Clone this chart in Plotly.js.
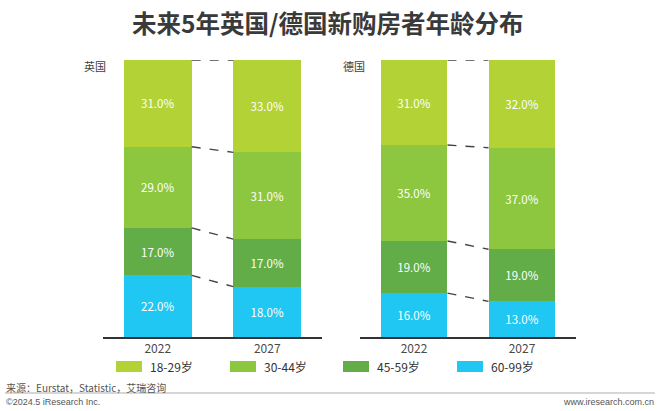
<!DOCTYPE html>
<html>
<head>
<meta charset="utf-8">
<script src="https://cdn.plot.ly/plotly-3.0.1.min.js"></script>
<style>
  html, body { margin: 0; padding: 0; background: #fff; }
  #chart { width: 660px; height: 411px; }
</style>
</head>
<body>
<div id="chart"></div>
<script>
"use strict";

// values (share of new home buyers, %)
var years = ["2022", "2027"];
var groupNames = ["18-29岁", "30-44岁", "45-59岁", "60-99岁"];
var groupColors = ["#B2D235", "#8DC63F", "#62AD47", "#1FC7F2"];

var uk_18_29 = [31.0, 33.0];
var uk_30_44 = [29.0, 31.0];
var uk_45_59 = [17.0, 17.0];
var uk_60_99 = [22.0, 18.0];

var de_18_29 = [31.0, 32.0];
var de_30_44 = [35.0, 37.0];
var de_45_59 = [19.0, 19.0];
var de_60_99 = [16.0, 13.0];

var W = 660, H = 411;
var FONT = "Noto Sans CJK SC, Noto Sans, sans-serif";
var BARGAP = 0.38;

function px(x) { return x / W; }
function py(y) { return 1 - y / H; }

// top-to-bottom order, same as legend
var ukSeries = [uk_18_29, uk_30_44, uk_45_59, uk_60_99];
var deSeries = [de_18_29, de_30_44, de_45_59, de_60_99];

function BuildTraces(series, xa, ya) {
    var traces = [];
    // plotly stacks the first trace at the bottom, so go bottom-up
    for (var i = series.length - 1; i >= 0; i--) {
        traces.push({
            type: "bar",
            x: years,
            y: series[i],
            name: groupNames[i],
            xaxis: xa,
            yaxis: ya,
            marker: { color: groupColors[i], line: { width: 0 } },
            text: series[i].map(v => v.toFixed(1) + "%"),
            textposition: "inside",
            insidetextanchor: "middle",
            textangle: 0,
            constraintext: "none",
            textfont: { family: FONT, size: 11.5, color: "#ffffff" },
            hoverinfo: "skip",
            showlegend: false
        });
    }
    return traces;
}

// dashed connectors between the two bars at each segment top
function BuildConnectors(series, xref, yref) {
    var shapes = [];
    var half = (1 - BARGAP) / 2;
    var totals = years.map((y, j) => series.reduce((s, arr) => s + arr[j], 0));
    var top = [100, 100];
    for (var i = 0; i < series.length; i++) {
        shapes.push({
            type: "line", xref: xref, yref: yref,
            x0: 0 + half, x1: 1 - half,
            y0: top[0], y1: top[1],
            line: { color: "#444444", width: 1.4, dash: "dash" }
        });
        top = top.map((t, j) => t - series[i][j] / totals[j] * 100);
    }
    return shapes;
}

var data = BuildTraces(ukSeries, "x", "y").concat(BuildTraces(deSeries, "x2", "y2"));

var shapes = BuildConnectors(ukSeries, "x", "y").concat(BuildConnectors(deSeries, "x2", "y2"));

var annotations = [];

// custom legend with wide swatches
var legendX = [116, 230, 343, 457];
for (var i = 0; i < groupNames.length; i++) {
    shapes.push({
        type: "rect", xref: "paper", yref: "paper",
        x0: px(legendX[i]), x1: px(legendX[i] + 26),
        y0: py(372), y1: py(361),
        fillcolor: groupColors[i], line: { width: 0 }
    });
    annotations.push({
        xref: "paper", yref: "paper", x: px(legendX[i] + 32), y: py(366.5),
        xanchor: "left", yanchor: "middle", showarrow: false,
        text: groupNames[i],
        font: { family: FONT, size: 12, color: "#333333" }
    });
}

// footer rule
shapes.push({
    type: "line", xref: "paper", yref: "paper",
    x0: px(5), x1: px(655), y0: py(393), y1: py(393),
    line: { color: "#c8c8c8", width: 1.5 }
});

annotations.push(
    {
        xref: "paper", yref: "paper", x: px(327.5), y: py(22),
        xanchor: "center", yanchor: "middle", showarrow: false,
        text: "未来5年英国/德国新购房者年龄分布",
        font: { family: FONT, size: 24.5, color: "#3a3a3a", weight: "bold" }
    },
    {
        xref: "paper", yref: "paper", x: px(108), y: py(66),
        xanchor: "right", yanchor: "middle", showarrow: false,
        text: "英国", font: { family: FONT, size: 11, color: "#404040" }
    },
    {
        xref: "paper", yref: "paper", x: px(367), y: py(66),
        xanchor: "right", yanchor: "middle", showarrow: false,
        text: "德国", font: { family: FONT, size: 11, color: "#404040" }
    },
    {
        xref: "paper", yref: "paper", x: px(4), y: py(387),
        xanchor: "left", yanchor: "middle", showarrow: false,
        text: "来源：Eurstat，Statistic，艾瑞咨询",
        font: { family: FONT, size: 10, color: "#555555" }
    },
    {
        xref: "paper", yref: "paper", x: px(4), y: py(402),
        xanchor: "left", yanchor: "middle", showarrow: false,
        text: "©2024.5 iResearch Inc.",
        font: { family: "Liberation Sans, Arial, sans-serif", size: 9, color: "#555555" }
    },
    {
        xref: "paper", yref: "paper", x: px(656), y: py(402),
        xanchor: "right", yanchor: "middle", showarrow: false,
        text: "www.iresearch.com.cn",
        font: { family: "Liberation Sans, Arial, sans-serif", size: 9, color: "#555555" }
    }
);

function XAxis(domain) {
    return {
        domain: domain,
        type: "category",
        showline: true, linecolor: "#333333", linewidth: 1.5,
        ticks: "", showgrid: false, zeroline: false,
        tickfont: { family: FONT, size: 12, color: "#4a4a4a" },
        fixedrange: true
    };
}
function YAxis(anchor) {
    return {
        domain: [py(337), py(60)],
        anchor: anchor,
        range: [0, 100],
        visible: false, showgrid: false, zeroline: false,
        fixedrange: true
    };
}

var layout = {
    width: W, height: H,
    margin: { l: 0, r: 0, t: 0, b: 0 },
    paper_bgcolor: "#ffffff", plot_bgcolor: "#ffffff",
    barmode: "stack",
    barnorm: "percent",
    bargap: BARGAP,
    showlegend: false,
    font: { family: FONT },
    xaxis: XAxis([px(103), px(322)]),
    yaxis: YAxis("x"),
    xaxis2: Object.assign(XAxis([px(360), px(576)]), { anchor: "y2" }),
    yaxis2: YAxis("x2"),
    shapes: shapes,
    annotations: annotations
};
layout.xaxis.anchor = "y";

Plotly.newPlot("chart", data, layout, { displayModeBar: false, staticPlot: true });
</script>
</body>
</html>
